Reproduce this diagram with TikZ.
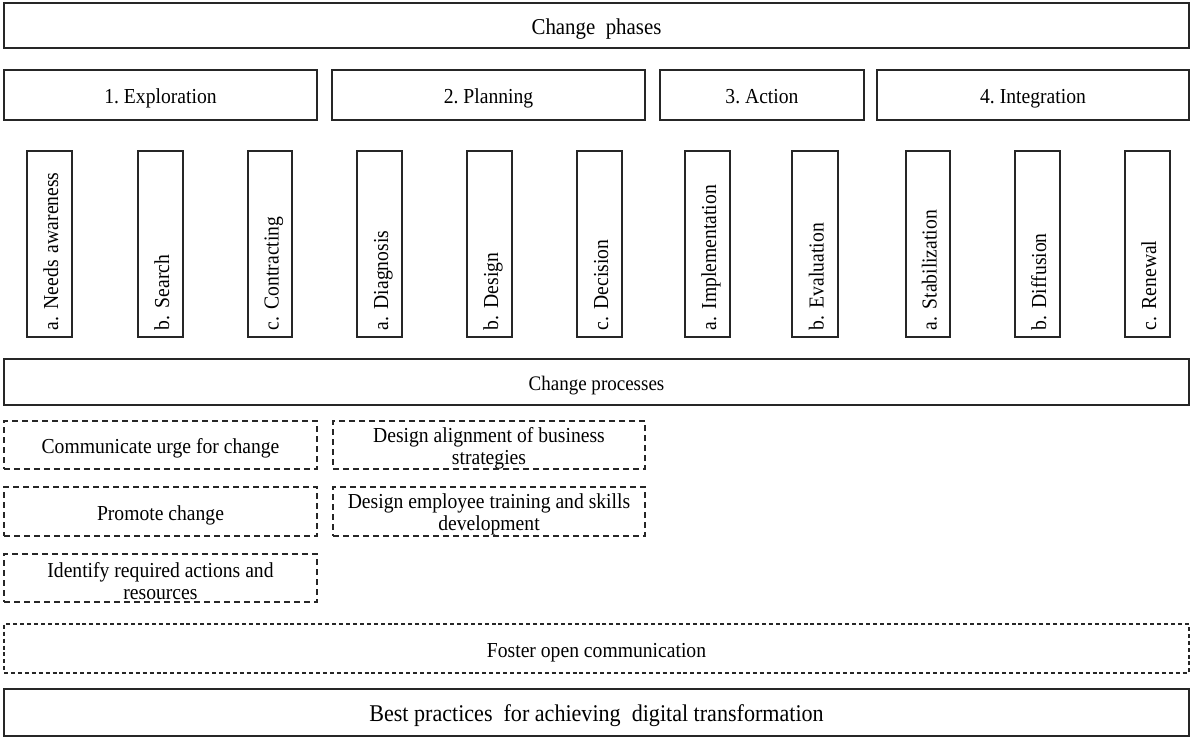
\documentclass[tikz,border=0pt]{standalone}
\usepackage{fontspec}
\setmainfont{Liberation Serif}
\newfontfamily\cf[FakeStretch=0.92]{Liberation Serif}
\newcommand{\fsz}[1]{\fontsize{#1}{1.03\dimexpr#1\relax}\selectfont\frenchspacing}
\newcommand{\pbox}[7]{%
  \node[#1, minimum width={(#5-#3)*0.75pt}, minimum height={(#6-#4)*0.75pt}]
    (#2) at ({(#3+#5)/2*0.75pt}, {-(#4+#6)/2*0.75pt}) {#7};}
\newcommand{\phasecol}[4]{% name, x1, x2, text
  \node[box, rotate=90, minimum width={186*0.75pt}, minimum height={(#3-#2)*0.75pt},
        inner xsep={7*0.75pt}, text width={172*0.75pt}, align=left, font=\cf\fsz{16pt},
        text height=12.8pt, text depth=0pt]
    (#1) at ({(#2+#3)/2*0.75pt}, {-244*0.75pt}) {#4};}
\newcommand{\up}{\rule{0pt}{15.5pt}}
\tikzset{
  box/.style={draw=black!85, line width=1.2pt, inner sep=0pt},
  one/.style={text height=12.8pt, text depth=0pt},
  dbox/.style={draw=black!85, line width=1.1pt, dash pattern=on 4.5pt off 3pt,
               inner sep=0pt, align=center, font=\cf\fsz{16pt}},
  fbox/.style={draw=black!85, line width=1.1pt, dash pattern=on 3pt off 2.2pt,
               inner sep=0pt, align=center, font=\cf\fsz{16pt}, one},
  phase/.style={box, font=\cf\fsz{16pt}, one},
}
\begin{document}
\begin{tikzpicture}
\useasboundingbox (0,0) rectangle ({1192*0.75pt}, {-738*0.75pt});
\pbox{box, font=\cf\fsz{17pt}, one}{top}{4}{3}{1189}{48}{Change\ \ phases}
\pbox{phase}{p1}{4}{70}{317}{120}{1. Exploration}
\pbox{phase}{p2}{332}{70}{645}{120}{2. Planning}
\pbox{phase}{p3}{660}{70}{864}{120}{3. Action}
\pbox{phase}{p4}{877}{70}{1189}{120}{4. Integration}
\phasecol{v1}{27}{72}{a. Needs awareness}
\phasecol{v2}{138}{183}{b. Search}
\phasecol{v3}{248}{292}{c. Contracting}
\phasecol{v4}{357}{402}{a. Diagnosis}
\phasecol{v5}{467}{512}{b. Design}
\phasecol{v6}{577}{622}{c. Decision}
\phasecol{v7}{685}{730}{a. Implementation}
\phasecol{v8}{792}{838}{b. Evaluation}
\phasecol{v9}{906}{950}{a. Stabilization}
\phasecol{v10}{1015}{1060}{b. Diffusion}
\phasecol{v11}{1125}{1170}{c. Renewal}
\pbox{box, font=\cf\fsz{15.5pt}, one}{proc}{4}{359}{1189}{405}{Change processes}
\pbox{dbox, one}{d1}{4}{421}{317}{469}{Communicate urge for change}
\pbox{dbox}{d2}{333}{421}{645}{469}{\up Design alignment of business\\strategies}
\pbox{dbox, one}{d3}{4}{487}{317}{536}{Promote change}
\pbox{dbox}{d4}{333}{487}{645}{536}{\up Design employee training and skills\\development}
\pbox{dbox}{d5}{4}{554}{317}{602}{\up Identify required actions and\\resources}
\pbox{fbox}{foster}{4}{624}{1189}{673}{Foster open communication}
\pbox{box, font=\cf\fsz{18pt}, one}{best}{4}{689}{1189}{736}{Best practices\ \ for achieving\ \ digital transformation}
\end{tikzpicture}
\end{document}
